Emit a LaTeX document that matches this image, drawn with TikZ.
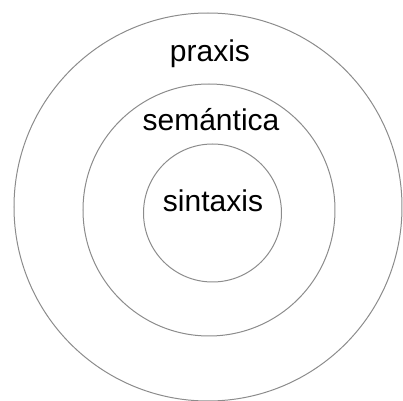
\documentclass[tikz,border=0pt]{standalone}
\usepackage{fontspec}
\setmainfont{Liberation Sans}
\usetikzlibrary{positioning}

\tikzset{
  ring/.style={draw=black!45,line width=0.5pt},
  level/.style={anchor=base,inner sep=0pt,font=\fontsize{15}{18}\selectfont}
}

\begin{document}
\begin{tikzpicture}[x=0.5pt,y=-0.5pt]
  \useasboundingbox (0,0) rectangle (403,401);
  \clip (0,0) rectangle (403,401);
  \draw[ring] (208,207) circle[radius=194*0.5pt]; % praxis
  \draw[ring] (209,210) circle[radius=126*0.5pt]; % semántica
  \draw[ring] (212.5,213) circle[radius=69*0.5pt]; % sintaxis
  \node[level] (praxis) at (210,62) {praxis};
  \node[level] (semantica) at (211,130.5) {semántica};
  \node[level] (sintaxis) at (213,212) {sintaxis};
\end{tikzpicture}
\end{document}
